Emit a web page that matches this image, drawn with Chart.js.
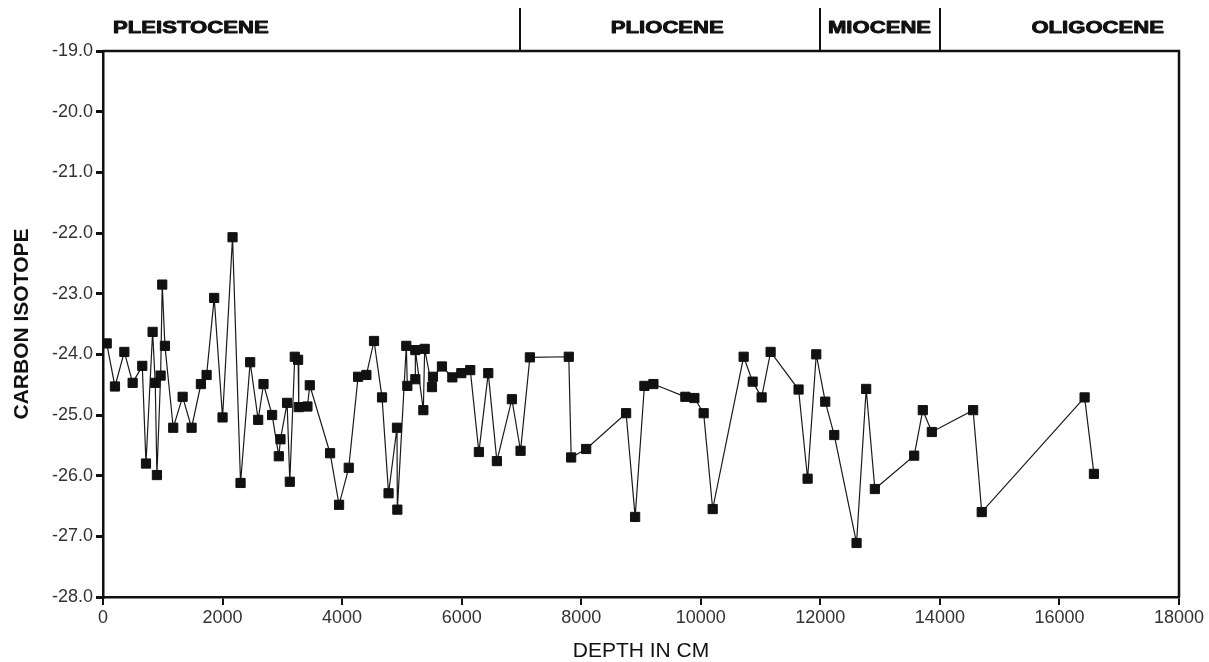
<!DOCTYPE html>
<html>
<head>
<meta charset="utf-8">
<title>Carbon isotope vs depth</title>
<script src="https://cdn.jsdelivr.net/npm/chart.js@4.4.1/dist/chart.umd.min.js"></script>
<style>
    html, body { margin: 0; padding: 0; background: #fff; }
    #wrap { width: 1209px; height: 662px; position: relative; }
</style>
</head>
<body>
<div id="wrap"><canvas id="isotopeChart"></canvas></div>
<script>
// depth (cm) and carbon isotope values
const depth = [
    62, 200, 357, 496, 657, 719, 830, 874, 902, 964,
    991, 1036, 1175, 1332, 1482, 1638, 1733, 1860, 2000, 2167,
    2301, 2462, 2596, 2685, 2829, 2941, 2969, 3080, 3125, 3208,
    3264, 3275, 3420, 3459, 3799, 3949, 4111, 4267, 4406, 4534,
    4668, 4777, 4918, 4924, 5074, 5091, 5225, 5225, 5359, 5381,
    5503, 5520, 5670, 5844, 5994, 6144, 6288, 6445, 6589, 6840,
    6985, 7141, 7792, 7832, 8083, 8751, 8902, 9057, 9208, 9742,
    9893, 10048, 10199, 10717, 10868, 11018, 11168, 11636, 11787, 11932,
    12082, 12233, 12606, 12767, 12912, 13570, 13714, 13865, 14556, 14700,
    16421, 16577
];
const carbon = [
    -23.82, -24.53, -23.96, -24.47, -24.19, -25.80, -23.63, -24.47, -25.99, -24.35,
    -22.85, -23.86, -25.21, -24.70, -25.21, -24.49, -24.34, -23.07, -25.04, -22.07,
    -26.12, -24.13, -25.08, -24.49, -25.00, -25.68, -25.40, -24.80, -26.10, -24.04,
    -24.09, -24.87, -24.86, -24.51, -25.63, -26.48, -25.87, -24.37, -24.34, -23.78,
    -24.71, -26.29, -25.21, -26.56, -23.86, -24.52, -24.41, -23.93, -24.92, -23.91,
    -24.54, -24.37, -24.20, -24.38, -24.31, -24.26, -25.61, -24.31, -25.76, -24.74,
    -25.59, -24.05, -24.04, -25.70, -25.56, -24.97, -26.68, -24.52, -24.49, -24.70,
    -24.72, -24.97, -26.55, -24.04, -24.45, -24.71, -23.96, -24.58, -26.05, -24.00,
    -24.78, -25.33, -27.11, -24.57, -26.22, -25.67, -24.92, -25.28, -24.92, -26.60,
    -24.71, -25.97
];

// epochs along the top of the plot
const epochNames = ['PLEISTOCENE', 'PLIOCENE', 'MIOCENE', 'OLIGOCENE'];
const epochBounds = [6970, 12000, 14000];          // depth of each boundary
const epochLabelDepth = [1470, 9440, 12990, 16640]; // where each name sits

const xTicks = [0, 2000, 4000, 6000, 8000, 10000, 12000, 14000, 16000, 18000];
const yTicks = [-28, -27, -26, -25, -24, -23, -22, -21, -20, -19];

const points = depth.map((d, i) => ({ x: d, y: carbon[i] }));

// frame on top/right and the epoch band above the plot
const epochBand = {
    id: 'epochBand',
    afterDraw(chart) {
        const { ctx, chartArea, scales } = chart;
        const x = scales.x;
        ctx.save();
        ctx.strokeStyle = '#111';
        ctx.lineWidth = 2.5;
        ctx.beginPath();
        ctx.moveTo(chartArea.left, chartArea.top);
        ctx.lineTo(chartArea.right, chartArea.top);
        ctx.lineTo(chartArea.right, chartArea.bottom);
        ctx.stroke();

        ctx.lineWidth = 2;
        ctx.beginPath();
        epochBounds.forEach(d => {
            const px = Math.round(x.getPixelForValue(d));
            ctx.moveTo(px, chartArea.top);
            ctx.lineTo(px, 8);
        });
        ctx.stroke();

        ctx.fillStyle = '#111';
        ctx.lineWidth = 0.9;
        ctx.lineJoin = 'round';
        ctx.font = 'bold 17px "Liberation Sans", Arial, sans-serif';
        ctx.textAlign = 'center';
        ctx.textBaseline = 'middle';
        epochNames.forEach((name, i) => {
            ctx.save();
            ctx.translate(x.getPixelForValue(epochLabelDepth[i]), 28);
            ctx.scale(1.3, 1);  // the original lettering is an extended heavy face
            ctx.fillText(name, 0, 0);
            ctx.strokeText(name, 0, 0);
            ctx.restore();
        });
        ctx.restore();
    }
};

const ctx = document.getElementById('isotopeChart').getContext('2d');
new Chart(ctx, {
    type: 'scatter',
    data: {
        datasets: [{
            label: 'Carbon isotope',
            data: points,
            showLine: true,
            borderColor: '#1a1a1a',
            borderWidth: 1.2,
            pointStyle: 'rect',
            pointRadius: 6.5,
            pointBorderWidth: 1,
            pointBackgroundColor: '#111',
            pointBorderColor: '#111'
        }]
    },
    options: {
        responsive: true,
        maintainAspectRatio: false,
        animation: false,
        layout: { padding: { left: 0, right: 30, top: 51, bottom: 0 } },
        plugins: {
            legend: { display: false },
            tooltip: { enabled: false }
        },
        scales: {
            x: {
                type: 'linear',
                min: xTicks[0],
                max: xTicks[xTicks.length - 1],
                afterFit: scale => { scale.height = 65; },
                afterBuildTicks: scale => { scale.ticks = xTicks.map(v => ({ value: v })); },
                grid: { drawOnChartArea: false, tickLength: 8, color: '#111', lineWidth: 2 },
                border: { color: '#111', width: 2.5 },
                ticks: {
                    padding: 2,
                    color: '#333',
                    font: { family: '"Liberation Sans", Arial, sans-serif', size: 18 },
                    callback: v => String(v)
                },
                title: {
                    display: true,
                    text: 'DEPTH IN CM',
                    color: '#111',
                    padding: { top: 0, bottom: 0 },
                    font: { family: '"Liberation Sans", Arial, sans-serif', size: 21, lineHeight: 1 }
                }
            },
            y: {
                type: 'linear',
                min: yTicks[0],
                max: yTicks[yTicks.length - 1],
                afterFit: scale => { scale.width = 103; },
                afterBuildTicks: scale => { scale.ticks = yTicks.map(v => ({ value: v })); },
                grid: { drawOnChartArea: false, tickLength: 7, color: '#111', lineWidth: 3 },
                border: { color: '#111', width: 2.5 },
                ticks: {
                    padding: 3,
                    color: '#333',
                    font: { family: '"Liberation Sans", Arial, sans-serif', size: 18 },
                    callback: v => v.toFixed(1)
                },
                title: {
                    display: true,
                    text: 'CARBON ISOTOPE',
                    color: '#111',
                    padding: { top: 12, bottom: 0 },
                    font: { family: '"Liberation Sans", Arial, sans-serif', size: 21, weight: 'bold', lineHeight: 1 }
                }
            }
        }
    },
    plugins: [epochBand]
});
</script>
</body>
</html>
